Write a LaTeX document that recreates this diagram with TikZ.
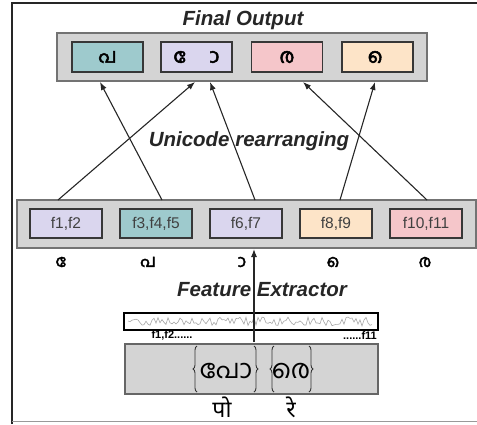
\documentclass[tikz,border=0pt]{standalone}
\usepackage{fontspec}
\setmainfont{Liberation Sans}
\newfontfamily\mal[Script=Malayalam]{Hind Kochi}
\newfontfamily\malb[Script=Malayalam,FakeBold=2.5]{Hind Kochi}
\newfontfamily\deva[Script=Devanagari]{Noto Sans}
\usetikzlibrary{arrows.meta,decorations.pathreplacing}
\definecolor{cteal}{RGB}{158,202,205}
\definecolor{clav}{RGB}{218,214,238}
\definecolor{cpink}{RGB}{245,198,202}
\definecolor{cpeach}{RGB}{253,228,200}
\definecolor{cgray}{RGB}{212,212,212}
\definecolor{cedge}{RGB}{55,55,55}
\tikzset{
  cont/.style={draw=black!55, line width=1.5pt, fill=cgray, inner sep=0pt},
  cbox/.style={draw=cedge, line width=1.4pt, inner sep=0pt, minimum height=29, minimum width=72,
    font=\fontsize{15.5}{17}\selectfont, text=black!75},
  obox/.style={draw=cedge, line width=1.4pt, inner sep=0pt, minimum height=30, minimum width=71,
    font=\malb\fontsize{20}{22}\selectfont},
  title/.style={font=\bfseries\itshape\fontsize{20.5}{23}\selectfont, text=black!85, inner sep=1pt},
  glab/.style={font=\malb\fontsize{17}{19}\selectfont, inner sep=0pt},
  conn/.style={line width=1.1pt, black!85, -{Latex[length=8pt,width=6pt]}},
  brc/.style={decorate, decoration={brace, amplitude=4pt}, line width=0.9pt, black!80},
}
\begin{document}
\begin{tikzpicture}[x=1pt,y=-1pt]
\useasboundingbox (0,0) rectangle (477,424);
% outer frame
\draw[line width=1.8pt, black!85] (12,424) -- (12,3) -- (477,3);
\draw[line width=1pt, black!40] (12,421) -- (477,421);

% top
\node[title] (tfinal) at (243,20) {Final Output};
\node[cont, minimum width=370, minimum height=48] (top) at (242,57) {};
\node[obox, fill=cteal] (o1) at (107.5,57) {പ};
\node[obox, fill=clav] (o2) at (196.5,57) {^^^^00a0േ\hspace{14pt}^^^^00a0ാ};
\node[obox, fill=cpink] (o3) at (287,57) {ര};
\node[obox, fill=cpeach] (o4) at (377.5,57) {^^^^00a0െ};

% features
\node[cont, minimum width=459, minimum height=48] (fc) at (246.5,224) {};
\node[cbox, fill=clav] (f1) at (66,223.5) {f1,f2};
\node[cbox, fill=cteal] (f2) at (156,223.5) {f3,f4,f5};
\node[cbox, fill=clav] (f3) at (246,223.5) {f6,f7};
\node[cbox, fill=cpeach] (f4) at (336,223.5) {f8,f9};
\node[cbox, fill=cpink] (f5) at (426,223.5) {f10,f11};

\node[glab] (l1) at (63,262) {^^^^00a0േ};
\node[glab] (l2) at (148,262) {പ};
\node[glab] (l3) at (240,262) {^^^^00a0ാ};
\node[glab] (l4) at (335,262) {^^^^00a0െ};
\node[glab] (l5) at (425,262) {ര};

% connectors
\coordinate (s1) at (58,200);  \coordinate (e1) at (195,82);
\coordinate (s2) at (162,200); \coordinate (e2) at (100,82);
\coordinate (s3) at (255,200); \coordinate (e3) at (210,82);
\coordinate (s4) at (340,200); \coordinate (e4) at (375,82);
\coordinate (s5) at (427,200); \coordinate (e5) at (303,82);
\draw[conn] (s1) -- (e1);
\draw[conn] (s2) -- (e2);
\draw[conn] (s3) -- (e3);
\draw[conn] (s4) -- (e4);
\draw[conn] (s5) -- (e5);
\node[title] (tuni) at (249,141) {Unicode rearranging};

% feature extractor
\coordinate (vb) at (254,342);
\coordinate (vt) at (254,249);
\node[title] (tfeat) at (262,290) {Feature Extractor};

\node[draw=black, line width=2pt, fill=white, minimum width=254, minimum height=17, inner sep=0pt] (strip) at (251,321.5) {};
\pgfmathsetseed{11}
\draw[black!35, line width=0.6pt] (128,321)
  \foreach \i in {1,...,122} { -- ({128+2*\i}, {321.5+4.5*rand}) };
\draw[conn] (vb) -- (vt);
\node[font=\bfseries\fontsize{11}{12}\selectfont, inner sep=0pt] (fa) at (172,335) {f1,f2......};
\node[font=\bfseries\fontsize{11}{12}\selectfont, inner sep=0pt] (fb) at (360,336) {......f11};

\node[draw=black!60, line width=1.4pt, fill=cgray, minimum width=253, minimum height=50, inner sep=0pt] (img) at (251.5,369) {};
\node[font=\mal\fontsize{26}{28}\selectfont, inner sep=0pt] (m1) at (226,371) {പോ};
\node[font=\mal\fontsize{26}{28}\selectfont, inner sep=0pt] (m2) at (291,371) {രെ};
\coordinate (b1a) at (197,392); \coordinate (b1b) at (197,346);
\coordinate (b2a) at (254,346); \coordinate (b2b) at (254,392);
\coordinate (b3a) at (274,392); \coordinate (b3b) at (274,346);
\coordinate (b4a) at (309,346); \coordinate (b4b) at (309,392);
\draw[brc] (b1a) -- (b1b);
\draw[brc] (b2a) -- (b2b);
\draw[brc] (b3a) -- (b3b);
\draw[brc] (b4a) -- (b4b);

\node[font=\deva\fontsize{23}{25}\selectfont, inner sep=0pt] (d1) at (222,407) {पो};
\node[font=\deva\fontsize{23}{25}\selectfont, inner sep=0pt] (d2) at (291,407) {रे};
\end{tikzpicture}
\end{document}
